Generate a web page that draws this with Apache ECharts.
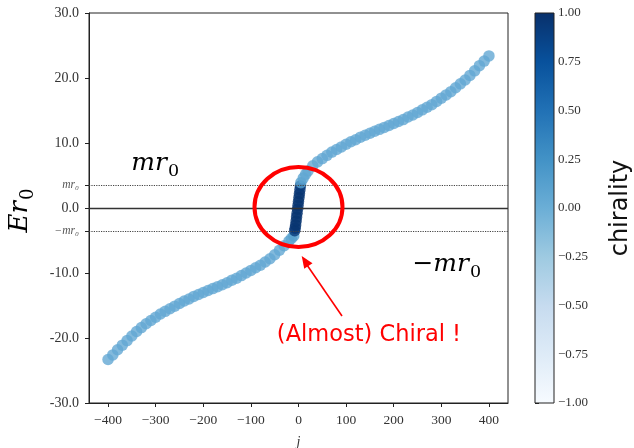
<!DOCTYPE html>
<html><head><meta charset="utf-8">
<script src="https://cdn.jsdelivr.net/npm/echarts@6/dist/echarts.min.js"></script>
<style>html,body{margin:0;padding:0;background:#fff}#c{width:634px;height:448px}</style>
</head><body><div id="c"></div><script>
// ---- data ----
const jValues = [
  -400,-390,-380,-370,-360,-350,-340,-330,-320,-310,-300,-290,-280,-270,-260,-250,-240,-230,-220,-210,
  -200,-190,-180,-170,-160,-150,-140,-130,-120,-110,-100,-90,-80,-70,-60,-50,-40,-30,-20,-15,-10,
  -8,-7,-6,-5,-4,-3,-2,-1,0,1,2,3,4,
  5,10,15,20,30,40,50,60,70,80,90,100,110,120,130,140,150,160,170,180,190,200,
  210,220,230,240,250,260,270,280,290,300,310,320,330,340,350,360,370,380,390,400
];
const energyValues = [
  -23.3,-22.6,-21.8,-21.1,-20.4,-19.7,-19.0,-18.4,-17.8,-17.3,-16.8,-16.3,-15.9,-15.5,-15.1,-14.7,-14.3,-14.0,-13.6,-13.3,
  -13.0,-12.7,-12.4,-12.1,-11.8,-11.5,-11.1,-10.8,-10.4,-10.0,-9.6,-9.2,-8.8,-8.3,-7.8,-7.2,-6.5,-5.8,-5.1,-4.7,-4.3,
  -3.5,-3.1,-2.6,-2.0,-1.4,-0.8,-0.2,0.4,1.0,1.6,2.2,2.8,3.4,
  3.9,4.6,5.2,5.7,6.5,7.1,7.6,8.1,8.6,9.0,9.4,9.8,10.2,10.5,10.9,11.2,11.5,11.8,12.1,12.4,12.7,13.0,
  13.3,13.6,14.0,14.3,14.7,15.1,15.5,15.9,16.4,16.9,17.4,17.9,18.5,19.1,19.7,20.4,21.1,21.9,22.6,23.4
];
const chiralityValues = [
  0.05,0.05,0.05,0.05,0.05,0.05,0.05,0.05,0.05,0.05,0.05,0.05,0.05,0.05,0.05,0.05,0.05,0.05,0.05,0.05,
  0.05,0.05,0.05,0.05,0.05,0.05,0.05,0.05,0.05,0.05,0.05,0.05,0.05,0.05,0.05,0.05,0.05,0.06,0.07,0.08,0.12,
  0.93,0.96,0.97,0.97,0.97,0.97,0.97,0.97,0.97,0.97,0.97,0.96,0.93,
  0.12,0.08,0.07,0.06,0.05,0.05,0.05,0.05,0.05,0.05,0.05,0.05,0.05,0.05,0.05,0.05,0.05,0.05,0.05,0.05,0.05,0.05,
  0.05,0.05,0.05,0.05,0.05,0.05,0.05,0.05,0.05,0.05,0.05,0.05,0.05,0.05,0.05,0.05,0.05,0.05,0.05,0.05
];
const mr0 = 3.5;
const xTickValues = [-400,-300,-200,-100,0,100,200,300,400];
const xTickLabels = ['\u2212400','\u2212300','\u2212200','\u2212100','0','100','200','300','400'];
const yTickValues = [-30,-20,-10,-3.5,0,3.5,10,20,30];
const yTickLabels = ['-30.0','-20.0','-10.0','{m|\u2212mr\u2080}','0.0','{m|mr\u2080}','10.0','20.0','30.0'];
const cbarTickValues = [-1,-0.75,-0.5,-0.25,0,0.25,0.5,0.75,1];
const cbarTickLabels = ['\u22121.00','\u22120.75','\u22120.50','\u22120.25','0.00','0.25','0.50','0.75','1.00'];
const bluesColors = ['#f7fbff','#deebf7','#c6dbef','#9ecae1','#6baed6','#4292c6','#2171b5','#08519c','#08306b'];

const points = jValues.map((j, i) => [j, energyValues[i], chiralityValues[i]]);
function lookup(vals, labels, v) {
  let best = 0;
  for (let i = 1; i < vals.length; i++) if (Math.abs(vals[i] - v) < Math.abs(vals[best] - v)) best = i;
  return Math.abs(vals[best] - v) < 1e-6 ? labels[best] : '';
}

const SERIF = '"Liberation Serif", "DejaVu Serif", serif';
const MATH = '"DejaVu Serif", serif';
function mathParts(x, y, main, sub, size) {
  return [
    {type: 'text', z: 100, x: x, y: y,
      style: {text: main, fill: '#000', fontSize: size, fontStyle: 'italic', fontFamily: MATH,
        align: 'right', verticalAlign: 'middle'}},
    {type: 'text', z: 100, x: x + 1, y: y + size * 0.33,
      style: {text: sub, fill: '#000', fontSize: size * 0.7, fontFamily: MATH,
        align: 'left', verticalAlign: 'middle'}}
  ];
}

const chart = echarts.init(document.getElementById('c'), null, {renderer: 'canvas'});
chart.setOption({
  animation: false,
  backgroundColor: '#fff',
  grid: [
    {left: 89, top: 13, width: 419, height: 390, show: true, borderColor: '#222', borderWidth: 1,
      backgroundColor: 'transparent', containLabel: false, outerBoundsMode: 'none'},
    {left: 535, top: 13, width: 19, height: 390, containLabel: false, outerBoundsMode: 'none'}
  ],
  xAxis: [
    {
      gridIndex: 0, type: 'value', min: -440, max: 440,
      axisLine: {show: true, onZero: false, lineStyle: {color: '#222', width: 1}},
      splitLine: {show: false},
      axisTick: {show: true, customValues: xTickValues, length: 4, lineStyle: {color: '#222'}},
      axisLabel: {customValues: xTickValues, formatter: v => lookup(xTickValues, xTickLabels, v),
        fontFamily: SERIF, fontSize: 13.5, color: '#333', margin: 10},
      name: 'j', nameLocation: 'middle', nameGap: 32,
      nameTextStyle: {fontStyle: 'italic', fontFamily: SERIF, fontSize: 14, color: '#333'}
    },
    {gridIndex: 1, type: 'value', min: 0, max: 1, show: false}
  ],
  yAxis: [
    {
      gridIndex: 0, type: 'value', min: -30, max: 30,
      axisLine: {show: true, onZero: false, lineStyle: {color: '#222', width: 1}},
      splitLine: {show: false},
      axisTick: {show: true, customValues: yTickValues, length: 4, lineStyle: {color: '#222'}},
      axisLabel: {customValues: yTickValues, formatter: v => lookup(yTickValues, yTickLabels, v),
        fontFamily: SERIF, fontSize: 14, color: '#333', margin: 10,
        rich: {m: {fontFamily: SERIF, fontStyle: 'italic', fontSize: 11.5, color: '#555'}}}
    },
    {
      gridIndex: 1, type: 'value', min: -1, max: 1, interval: 0.25, position: 'right',
      axisLine: {show: false}, splitLine: {show: false},
      axisTick: {show: true, length: 4, lineStyle: {color: '#222'}},
      axisLabel: {formatter: v => lookup(cbarTickValues, cbarTickLabels, v),
        fontFamily: SERIF, fontSize: 13, color: '#333', margin: 4}
    }
  ],
  visualMap: {
    show: false, type: 'continuous', seriesIndex: 0, dimension: 2, min: -1, max: 1,
    inRange: {color: bluesColors}
  },
  series: [{
    type: 'scatter', xAxisIndex: 0, yAxisIndex: 0, symbol: 'circle', symbolSize: 11.5,
    data: points,
    markLine: {
      silent: true, symbol: 'none', animation: false, z: 10,
      label: {show: false},
      data: [
        {yAxis: 0, lineStyle: {type: 'solid', color: '#333', width: 1.3}},
        {yAxis: mr0, lineStyle: {type: 'dotted', color: '#444', width: 1.2}},
        {yAxis: -mr0, lineStyle: {type: 'dotted', color: '#444', width: 1.2}}
      ]
    }
  }],
  graphic: [
    {type: 'rect', z: 50, shape: {x: 535, y: 13, width: 19, height: 390},
      style: {fill: new echarts.graphic.LinearGradient(0, 0, 0, 1,
        bluesColors.slice().reverse().map((c, i, a) => ({offset: i / (a.length - 1), color: c}))),
        stroke: '#222', lineWidth: 1}},
    {type: 'ellipse', z: 100, shape: {cx: 298.5, cy: 207, rx: 44, ry: 40},
      style: {fill: 'none', stroke: '#ff0000', lineWidth: 4}},
    {type: 'line', z: 100, shape: {x1: 342, y1: 316, x2: 307, y2: 265},
      style: {stroke: '#ff0000', lineWidth: 1.6}},
    {type: 'polygon', z: 100, shape: {points: [[301.7, 256], [312.5, 263.2], [304.2, 268.8]]},
      style: {fill: '#ff0000'}},
    {type: 'text', z: 100, x: 369, y: 335,
      style: {text: '(Almost) Chiral !', fill: '#ff0000', fontSize: 22.5, fontFamily: '"DejaVu Sans", sans-serif',
        align: 'center', verticalAlign: 'middle'}},
    ...mathParts(167, 163, 'mr', '0', 25),
    ...mathParts(469, 264, '\u2212mr', '0', 25),
    {type: 'group', x: 20, y: 212, rotation: Math.PI / 2, children: mathParts(11, 0, 'Er', '0', 26)},
    {type: 'text', z: 100, x: 621, y: 208, rotation: Math.PI / 2,
      style: {text: 'chirality', fill: '#111', fontSize: 24, fontFamily: '"DejaVu Sans", sans-serif',
        align: 'center', verticalAlign: 'middle'}}
  ]
});
</script></body></html>
